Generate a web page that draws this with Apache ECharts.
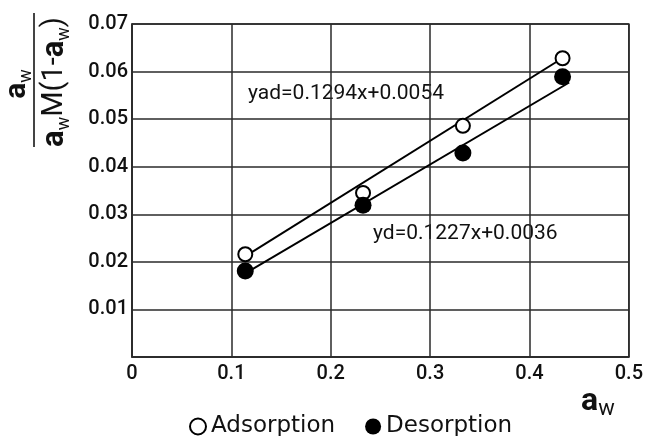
<!DOCTYPE html>
<html>
<head>
<meta charset="utf-8">
<script src="https://cdn.jsdelivr.net/npm/echarts@6/dist/echarts.min.js"></script>
<style>
html,body{margin:0;padding:0;background:#fff;}
#chart{width:646px;height:436px;}
</style>
</head>
<body>
<div id="chart"></div>
<script>
// Data
const xValues = [0.114, 0.2325, 0.333, 0.4333];
const adsorption = [0.0216, 0.0345, 0.0486, 0.0628];
const desorption = [0.0181, 0.0319, 0.0429, 0.0589];
const adFitX = [0.111, 0.433];
const adFitY = [0.0208, 0.0628];
const deFitX = [0.114, 0.44];
const deFitY = [0.0176, 0.0577];
const xTicks = [0, 0.1, 0.2, 0.3, 0.4, 0.5];
const yTicks = [0.01, 0.02, 0.03, 0.04, 0.05, 0.06, 0.07];
const seriesNames = ['Adsorption', 'Desorption'];
const adEquation = 'yad=0.1294x+0.0054';
const deEquation = 'yd=0.1227x+0.0036';

const FONT = 'Roboto, "DejaVu Sans", sans-serif';
const LFONT = '"DejaVu Sans", Roboto, sans-serif';
const pair = (xs, ys) => xs.map((x, i) => [x, ys[i]]);

const chart = echarts.init(document.getElementById('chart'), null, {renderer: 'canvas'});
const gridLine = {show: true, lineStyle: {color: '#2a2a2a', width: 1.5}};

const subRich = (big, small, dy, mid) => ({
  a: {fontSize: big, fontWeight: 'bold', fill: '#111', fontFamily: FONT, lineHeight: 36, verticalAlign: 'middle'},
  s: {fontSize: small, fill: '#111', fontFamily: FONT, lineHeight: dy, verticalAlign: 'bottom'},
  t: {fontSize: mid, fill: '#111', fontFamily: FONT, lineHeight: 36, verticalAlign: 'middle'}
});

chart.setOption({
  animation: false,
  backgroundColor: '#fff',
  grid: {left: 132, right: 16, top: 24, bottom: 79, containLabel: false, show: true, borderColor: '#2a2a2a', borderWidth: 1.5},
  xAxis: {
    type: 'value', min: 0, max: 0.5, interval: 0.1,
    axisLine: {show: true, lineStyle: {color: '#2a2a2a', width: 1.5}},
    axisTick: {show: false},
    splitLine: gridLine,
    axisLabel: {
      margin: 7, color: '#111', fontSize: 20, fontWeight: 500, fontFamily: FONT,
      formatter: v => { const t = xTicks.find(k => Math.abs(k - v) < 1e-9); return t === undefined ? '' : String(t); }
    }
  },
  yAxis: {
    type: 'value', min: 0, max: 0.07, interval: 0.01,
    axisLine: {show: true, lineStyle: {color: '#2a2a2a', width: 1.5}},
    axisTick: {show: false},
    splitLine: gridLine,
    axisLabel: {
      margin: 4, color: '#111', fontSize: 20, fontWeight: 500, fontFamily: FONT,
      formatter: v => { const t = yTicks.find(k => Math.abs(k - v) < 1e-9); return t === undefined ? '' : t.toFixed(2); }
    }
  },
  legend: {
    data: [{name: seriesNames[0], icon: 'emptyCircle'}, {name: seriesNames[1], icon: 'circle'}],
    left: 184, top: 410, itemWidth: 16, itemHeight: 16, itemGap: 30,
    itemStyle: {opacity: 1},
    textStyle: {fontSize: 23, color: '#111', fontFamily: LFONT}
  },
  series: [
    {
      name: seriesNames[0], type: 'scatter', symbol: 'emptyCircle', symbolSize: 14,
      itemStyle: {color: '#000', borderColor: '#000', borderWidth: 2, opacity: 1},
      data: pair(xValues, adsorption), z: 5
    },
    {
      name: seriesNames[1], type: 'scatter', symbol: 'circle', symbolSize: 17,
      itemStyle: {color: '#000', opacity: 1},
      data: pair(xValues, desorption), z: 5
    },
    {
      type: 'line', data: pair(adFitX, adFitY), symbol: 'none', silent: true,
      lineStyle: {color: '#000', width: 2}, z: 3
    },
    {
      type: 'line', data: pair(deFitX, deFitY), symbol: 'none', silent: true,
      lineStyle: {color: '#000', width: 2}, z: 3
    }
  ],
  graphic: [
    {type: 'text', left: 248, top: 83, silent: true,
     style: {text: adEquation, fontSize: 21, fill: '#111', fontFamily: FONT}},
    {type: 'text', left: 373, top: 223, silent: true,
     style: {text: deEquation, fontSize: 21, fill: '#111', fontFamily: FONT}},
    // y-axis name: fraction
    {type: 'text', x: 17, y: 84, rotation: Math.PI / 2, silent: true,
     style: {text: '{a|a}{s|w}', align: 'center', verticalAlign: 'middle', rich: subRich(30, 18, 18, 28)}},
    {type: 'rect', silent: true, shape: {x: 33, y: 13, width: 2, height: 134}, style: {fill: '#444'}},
    {type: 'text', x: 55, y: 82, rotation: Math.PI / 2, silent: true,
     style: {text: '{a|a}{s|w}{t|M(1-}{a|a}{s|w}{t|)}', align: 'center', verticalAlign: 'middle', rich: subRich(31, 18, 18, 29)}},
    // x-axis name
    {type: 'text', x: 581, y: 384, silent: true,
     style: {text: '{a|a}{s|w}', rich: {
       a: {fontSize: 32, fontWeight: 'bold', fill: '#111', fontFamily: FONT, lineHeight: 36, verticalAlign: 'middle'},
       s: {fontSize: 22, fill: '#111', fontFamily: FONT, lineHeight: 18, verticalAlign: 'bottom'}}}}
  ]
});
</script>
</body>
</html>
